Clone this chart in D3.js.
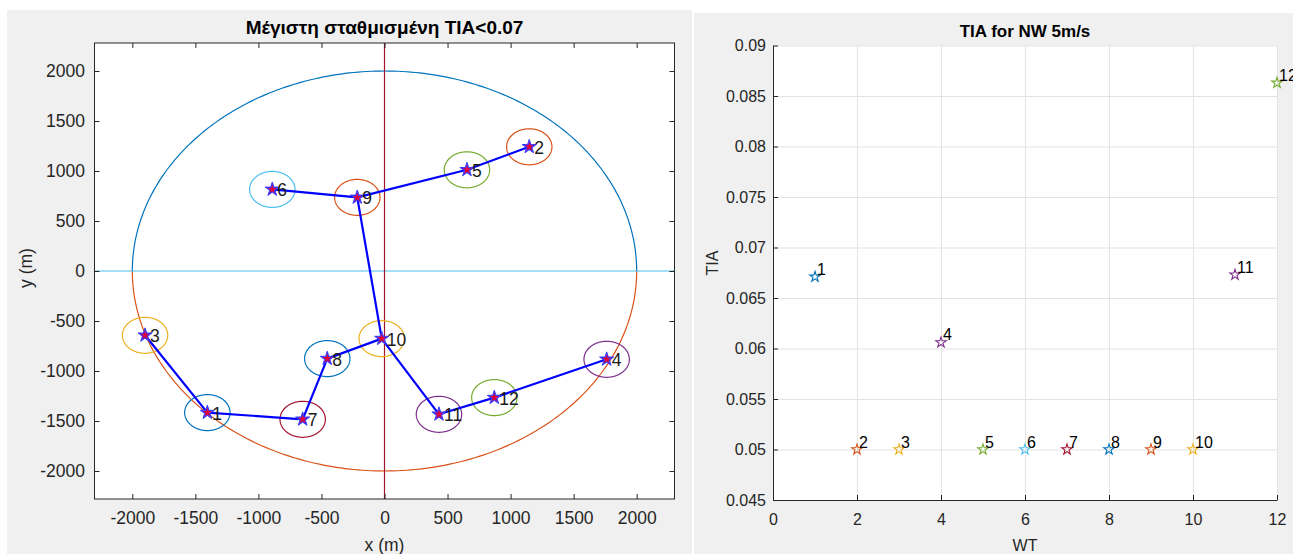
<!DOCTYPE html>
<html>
<head>
<meta charset="utf-8">
<script src="https://cdn.jsdelivr.net/npm/d3@7"></script>
<style>
  body { margin: 0; background: #ffffff; }
  text { font-family: "Liberation Sans", Arial, Helvetica, sans-serif; fill: #262626; }
</style>
</head>
<body>
<svg id="chart" width="1293" height="554"></svg>
<script>
// ---- Wind farm layout (metres) ----
const turbineIds = [1, 2, 3, 4, 5, 6, 7, 8, 9, 10, 11, 12];
const turbineX = [-1405, 1148, -1899, 1762, 654, -890, -649, -454, -216, -22, 432, 871];
const turbineY = [-1416, 1242, -643, -883, 1012, 816, -1483, -876, 736, -676, -1433, -1266];
// cable connections between turbines (by id)
const cableLinks = [[3, 1], [1, 7], [7, 8], [8, 10], [10, 9], [9, 6], [9, 5], [5, 2], [10, 11], [11, 12], [12, 4]];
const siteRadius = 2000;
const clearanceRadius = 180;
const layoutTicks = [-2000, -1500, -1000, -500, 0, 500, 1000, 1500, 2000];

// ---- Added turbulence intensity per turbine ----
const wtIndex = [1, 2, 3, 4, 5, 6, 7, 8, 9, 10, 11, 12];
const tiaValues = [0.0671, 0.05, 0.05, 0.0606, 0.05, 0.05, 0.05, 0.05, 0.05, 0.05, 0.0673, 0.0863];
const wtTicks = [0, 2, 4, 6, 8, 10, 12];
const tiaTicks = [0.045, 0.05, 0.055, 0.06, 0.065, 0.07, 0.075, 0.08, 0.085, 0.09];
const tiaTickLabels = ["0.045", "0.05", "0.055", "0.06", "0.065", "0.07", "0.075", "0.08", "0.085", "0.09"];

// default line colour order
const palette = ["#0072BD", "#D95319", "#EDB120", "#7E2F8E", "#77AC30", "#4DBEEE", "#A2142F"];
const colorOf = i => palette[i % palette.length];

const svg = d3.select("#chart");
const axisColor = "#262626";
const fsL = 17.5;   // left panel text size
const fsR = 16;     // right panel text size
const plainNum = d => String(d);

// figure panels
svg.append("rect").attr("x", 7).attr("y", 10).attr("width", 685).attr("height", 544).attr("fill", "#f0f0f0");
svg.append("rect").attr("x", 694).attr("y", 13).attr("width", 599).attr("height", 541).attr("fill", "#f0f0f0");

// ================= Left: layout =================
const L = { left: 94.5, right: 674.5, top: 43, bottom: 499 };
const x1 = d3.scaleLinear().domain([-2300, 2300]).range([L.left, L.right]);
const y1 = d3.scaleLinear().domain([-2280, 2280]).range([L.bottom, L.top]);

svg.append("rect").attr("x", L.left).attr("y", L.top)
  .attr("width", L.right - L.left).attr("height", L.bottom - L.top).attr("fill", "#fff");

svg.append("defs").append("clipPath").attr("id", "clipL")
  .append("rect").attr("x", L.left).attr("y", L.top)
  .attr("width", L.right - L.left).attr("height", L.bottom - L.top);

const gL = svg.append("g").attr("clip-path", "url(#clipL)");

const arcLine = d3.line().x(d => x1(d[0])).y(d => y1(d[1]));
const circlePts = (cx, cy, r, a0, a1) =>
  d3.range(a0, a1 + 0.001, 1).map(a => [cx + r * Math.cos(a * Math.PI / 180), cy + r * Math.sin(a * Math.PI / 180)]);

// site boundary: upper and lower halves
gL.append("path").attr("d", arcLine(circlePts(0, 0, siteRadius, 0, 180)))
  .attr("fill", "none").attr("stroke", palette[0]).attr("stroke-width", 1.2);
gL.append("path").attr("d", arcLine(circlePts(0, 0, siteRadius, 180, 360)))
  .attr("fill", "none").attr("stroke", palette[1]).attr("stroke-width", 1.2);

// reference axes through the origin
gL.append("path").attr("d", arcLine([[-2300, 0], [2300, 0]]))
  .attr("stroke", palette[5]).attr("stroke-width", 1.2);
gL.append("path").attr("d", arcLine([[0, -2280], [0, 2280]]))
  .attr("stroke", palette[6]).attr("stroke-width", 1.2);

// clearance circles around each turbine
turbineIds.forEach((id, i) => {
  gL.append("path").attr("d", arcLine(circlePts(turbineX[i], turbineY[i], clearanceRadius, 0, 360)))
    .attr("fill", "none").attr("stroke", colorOf(i)).attr("stroke-width", 1.2);
});

// cables
const idx = id => turbineIds.indexOf(id);
cableLinks.forEach(([a, b]) => {
  gL.append("path")
    .attr("d", arcLine([[turbineX[idx(a)], turbineY[idx(a)]], [turbineX[idx(b)], turbineY[idx(b)]]]))
    .attr("stroke", "#0000ff").attr("stroke-width", 2.2).attr("fill", "none");
});

// turbine markers
const starOuter = d3.symbol().type(d3.symbolStar).size(62);
const starInner = d3.symbol().type(d3.symbolStar).size(26);
turbineIds.forEach((id, i) => {
  const g = gL.append("g").attr("transform", `translate(${x1(turbineX[i])},${y1(turbineY[i])})`);
  g.append("path").attr("d", starOuter()).attr("fill", "#3b3bff").attr("stroke", "#3b3bff").attr("stroke-width", 1);
  g.append("path").attr("d", starInner()).attr("fill", "#e0003a");
});
turbineIds.forEach((id, i) => {
  gL.append("text").attr("x", x1(turbineX[i]) + 5).attr("y", y1(turbineY[i]) + 7)
    .attr("font-size", fsL).style("fill", "#1a1a1a").text(id);
});

// box and axes (ticks pointing inwards on all sides)
const tl = 5;
const axL = svg.append("g");
axL.append("g").attr("transform", `translate(0,${L.bottom})`)
  .call(d3.axisBottom(x1).tickValues(layoutTicks).tickFormat(plainNum).tickSizeInner(-tl).tickSizeOuter(0).tickPadding(13));
axL.append("g").attr("transform", `translate(0,${L.top})`)
  .call(d3.axisTop(x1).tickValues(layoutTicks).tickSizeInner(-tl).tickSizeOuter(0).tickFormat(""));
axL.append("g").attr("transform", `translate(${L.left},0)`)
  .call(d3.axisLeft(y1).tickValues(layoutTicks).tickFormat(plainNum).tickSizeInner(-tl).tickSizeOuter(0).tickPadding(9.5));
axL.append("g").attr("transform", `translate(${L.right},0)`)
  .call(d3.axisRight(y1).tickValues(layoutTicks).tickSizeInner(-tl).tickSizeOuter(0).tickFormat(""));
axL.selectAll(".domain").remove();
axL.append("rect").attr("x", L.left).attr("y", L.top)
  .attr("width", L.right - L.left).attr("height", L.bottom - L.top)
  .attr("fill", "none").attr("stroke", axisColor).attr("stroke-width", 1);

axL.selectAll(".tick line").attr("stroke", axisColor);
axL.selectAll(".tick text").attr("font-size", fsL).attr("font-family", null).style("fill", "#262626");

svg.append("text").attr("x", (L.left + L.right) / 2).attr("y", 34)
  .attr("text-anchor", "middle").attr("font-size", 19).attr("font-weight", "bold")
  .style("fill", "#000").text("Μέγιστη σταθμισμένη TIA<0.07");
svg.append("text").attr("x", (L.left + L.right) / 2).attr("y", 551)
  .attr("text-anchor", "middle").attr("font-size", fsL).text("x (m)");
svg.append("text").attr("transform", "translate(32,268) rotate(-90)")
  .attr("text-anchor", "middle").attr("font-size", fsL).text("y (m)");

// ================= Right: TIA per turbine =================
const R = { left: 773, right: 1277, top: 45.5, bottom: 500 };
const x2 = d3.scaleLinear().domain([0, 12]).range([R.left, R.right]);
const y2 = d3.scaleLinear().domain([0.045, 0.09]).range([R.bottom, R.top]);

svg.append("rect").attr("x", R.left).attr("y", R.top)
  .attr("width", R.right - R.left).attr("height", R.bottom - R.top).attr("fill", "#fff");

// grid
const grid = svg.append("g");
grid.append("g").attr("transform", `translate(0,${R.bottom})`)
  .call(d3.axisBottom(x2).tickValues(wtTicks).tickSize(-(R.bottom - R.top)).tickFormat(""));
grid.append("g").attr("transform", `translate(${R.left},0)`)
  .call(d3.axisLeft(y2).tickValues(tiaTicks).tickSize(-(R.right - R.left)).tickFormat(""));
grid.selectAll(".domain").remove();
grid.selectAll("line").attr("stroke", "#e3e3e3").attr("stroke-width", 1);

// axes (left and bottom only, ticks inward)
const axR = svg.append("g");
axR.append("g").attr("transform", `translate(0,${R.bottom})`)
  .call(d3.axisBottom(x2).tickValues(wtTicks).tickFormat(plainNum).tickSizeInner(-tl).tickSizeOuter(0).tickPadding(14));
axR.append("g").attr("transform", `translate(${R.left},0)`)
  .call(d3.axisLeft(y2).tickValues(tiaTicks).tickFormat((d, i) => tiaTickLabels[i])
    .tickSizeInner(-tl).tickSizeOuter(0).tickPadding(7));
axR.selectAll(".domain").attr("stroke", axisColor);
axR.selectAll(".tick line").attr("stroke", axisColor);
axR.selectAll(".tick text").attr("font-size", fsR).attr("font-family", null).style("fill", "#262626");

// markers
const openStar = d3.symbol().type(d3.symbolStar).size(34);
wtIndex.forEach((w, i) => {
  svg.append("path").attr("d", openStar())
    .attr("transform", `translate(${x2(w)},${y2(tiaValues[i])})`)
    .attr("fill", "none").attr("stroke", colorOf(i)).attr("stroke-width", 1.1);
  svg.append("text").attr("x", x2(w) + 2).attr("y", y2(tiaValues[i]) - 2)
    .attr("font-size", fsR).style("fill", "#000").text(w);
});

svg.append("text").attr("x", (R.left + R.right) / 2).attr("y", 37)
  .attr("text-anchor", "middle").attr("font-size", 17).attr("font-weight", "bold")
  .style("fill", "#000").text("TIA for NW 5m/s");
svg.append("text").attr("x", (R.left + R.right) / 2).attr("y", 551)
  .attr("text-anchor", "middle").attr("font-size", fsR).text("WT");
svg.append("text").attr("transform", "translate(718,263) rotate(-90)")
  .attr("text-anchor", "middle").attr("font-size", fsR).text("TIA");
</script>
</body>
</html>
